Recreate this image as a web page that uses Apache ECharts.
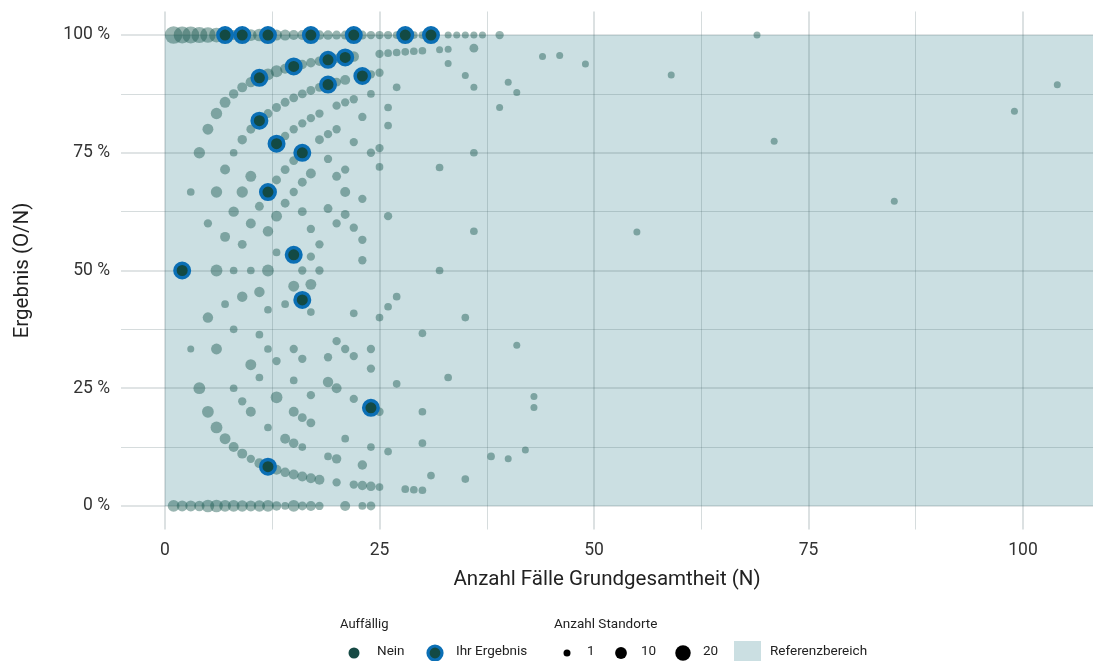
<!DOCTYPE html>
<html>
<head>
<meta charset="utf-8">
<script src="https://cdn.jsdelivr.net/npm/echarts@6/dist/echarts.min.js"></script>
<style>
  html, body { margin: 0; padding: 0; background: #fff; }
  #chart { width: 1093px; height: 661px; }
</style>
</head>
<body>
<div id="chart"></div>
<script>
// Werte je Standort: [N, O, Anzahl Standorte]
// Zeile 100 % (O = N)
var voll = [[1,1,27],[2,2,25],[3,3,25],[4,4,22],[5,5,20],[6,6,18],[8,8,6],[10,10,10],[11,11,12],
            [13,13,8],[14,14,8],[15,15,6],[16,16,6],[18,18,5],[19,19,5],[20,20,4],[21,21,4],[23,23,4],
            [24,24,3],[25,25,3],[26,26,3],[27,27,2],[29,29,2],[30,30,2],[33,33,1],[34,34,1],[35,35,1],
            [36,36,1],[37,37,1],[39,39,3],[69,69,1]];
// Zeile 0 % (O = 0)
var leer = [[1,0,10],[2,0,8],[3,0,8],[4,0,7],[5,0,12],[6,0,12],[7,0,10],[8,0,10],[9,0,9],[10,0,8],
            [11,0,9],[12,0,10],[13,0,5],[14,0,2],[15,0,10],[16,0,4],[17,0,6],[18,0,3],[21,0,6],[23,0,2],[24,0,4]];
// Bogen (N-1)/N und weit rechts
var bogen1 = [[3,2,2],[4,3,9],[5,4,8],[6,5,9],[7,6,8],[8,7,5],[9,8,6],[10,9,7],[12,11,10],[13,12,10],
              [14,13,6],[16,15,5],[17,16,5],[18,17,5],[20,19,4],[22,21,7],[25,24,3],[26,25,2],[27,26,2],
              [28,27,2],[29,28,2],[30,29,2],[32,31,1],[33,32,1],[36,35,4],[44,42,1],[46,44,1],[49,46,1],
              [59,54,1],[99,83,1],[104,93,1]];
// Bogen (N-2)/N
var bogen2 = [[5,3,3],[6,4,9],[7,5,6],[8,6,2],[9,7,5],[10,8,4],[12,10,4],[13,11,4],[14,12,4],[15,13,4],
              [16,14,4],[17,15,4],[18,16,4],[20,18,4],[21,19,6],[24,22,3],[25,23,3],[33,31,1],[35,32,1],
              [36,32,1],[40,36,1],[41,36,1],[39,33,1]];
// Mitte oben (ca. 55 - 90 %)
var mitteOben = [[20,17,3],[21,18,3],[22,19,3],[18,15,3],[17,14,3],[16,13,3],[15,12,3],[14,11,3],[23,19,3],
                 [26,22,2],[26,21,2],[24,21,2],[27,24,2],[20,16,3],[19,15,3],[18,14,4],[22,17,3],[24,18,3],
                 [25,19,3],[36,27,2],[25,18,2],[32,23,2],[19,14,3],[21,15,3],[20,14,4],[15,11,4],[14,10,4],
                 [13,9,4],[16,11,4],[17,12,6],[10,7,8],[9,6,9],[15,10,3],[21,14,6],[23,15,3],[14,9,4],
                 [11,7,4],[8,5,7],[13,8,8],[16,10,4],[19,12,4],[21,13,4],[26,16,3],[36,21,2],[20,12,3],
                 [22,13,3],[10,6,6],[7,4,6],[12,7,7],[17,10,3],[9,5,4],[18,10,3],[23,13,3],[13,7,2],
                 [17,9,3],[23,12,3],[55,32,1],[85,55,1],[71,55,1]];
// Mitte unten (ca. 20 - 50 %)
var mitteUnten = [[6,3,10],[8,4,2],[10,5,2],[12,6,10],[16,8,3],[18,9,3],[32,16,2],[15,7,8],[17,8,8],
                  [11,5,7],[9,4,7],[7,3,2],[14,6,2],[12,5,2],[17,7,2],[22,9,2],[27,12,2],[26,11,2],
                  [25,10,2],[35,14,2],[5,2,7],[8,3,2],[11,4,2],[30,11,2],[20,7,3],[21,7,3],[22,7,3],
                  [24,8,3],[24,7,3],[19,6,3],[16,5,3],[15,5,3],[13,4,3],[12,4,2],[10,3,8],[6,2,8],
                  [3,1,1],[11,3,2],[15,4,2],[19,5,7],[20,5,6],[27,7,2],[33,9,2],[4,1,10],[8,2,2],
                  [41,14,1],[43,10,1],[43,9,1]];
// Bogen 1/N und unten
var bogenUnten = [[17,4,3],[13,3,10],[22,5,3],[25,5,3],[30,6,2],[9,2,3],[10,2,6],[5,1,10],[15,3,6],
                  [16,3,4],[17,3,4],[12,2,2],[6,1,10],[7,1,8],[8,1,6],[9,1,6],[10,1,3],[11,1,6],
                  [13,1,6],[14,1,5],[15,1,6],[16,1,6],[17,1,6],[18,1,6],[20,1,3],[22,1,3],[23,1,5],
                  [24,1,5],[25,1,2],[28,1,2],[29,1,2],[30,1,2],[31,2,2],[35,2,2],[38,4,2],[40,4,1],
                  [42,5,1],[14,2,6],[15,2,5],[16,2,2],[21,3,2],[19,2,2],[20,2,5],[23,2,5],[24,3,2],
                  [26,3,2],[30,4,2]];
// Ihr Ergebnis: [N, O]
var ihrErgebnis = [[7,7],[9,9],[12,12],[17,17],[22,22],[28,28],[31,31],[21,20],[19,18],[15,14],[11,10],
                   [19,17],[23,21],[11,9],[13,10],[16,12],[12,8],[15,8],[2,1],[16,7],[24,5],[12,1]];

var achseMajor = [0, 25, 50, 75, 100];
var achseMinor = [12.5, 37.5, 62.5, 87.5];
var legendeStandorte = [1, 10, 20];
var refBereich = [0, 100];  // Referenzbereich in %

var xMin = -5.13, xMax = 108.16, yMin = -5, yMax = 105;
var schrift = 'Roboto, "Noto Sans", sans-serif';

function groesse(n) { return Math.sqrt(49 + 10 * (n - 1)); }

function punkte(liste) {
    return liste.map(function (p) { return [p[0], p[1] / p[0] * 100, p[2]]; });
}

var grau = punkte(voll).concat(punkte(leer), punkte(bogen1), punkte(bogen2),
                               punkte(mitteOben), punkte(mitteUnten), punkte(bogenUnten));
var blau = ihrErgebnis.map(function (p) { return [p[0], p[1] / p[0] * 100]; });

var gridFarbe = 'rgba(70,95,100,0.22)';

var myChart = echarts.init(document.getElementById('chart'));

// Legende unten
var lx = [354, 435, 567, 621, 683];
var legendeFont = '13.5px ' + schrift;
var legende = [
    { type: 'text', left: 340, top: 618, style: { text: 'Auffällig', font: '13px ' + schrift, fill: '#222' } },
    { type: 'circle', shape: { cx: lx[0], cy: 653, r: 5.5 }, style: { fill: '#174a45' } },
    { type: 'text', left: 377, top: 645, style: { text: 'Nein', font: legendeFont, fill: '#222' } },
    { type: 'circle', shape: { cx: lx[1], cy: 653, r: 7 }, style: { fill: '#134a44', stroke: '#0b6fb5', lineWidth: 3.2 } },
    { type: 'text', left: 456, top: 645, style: { text: 'Ihr Ergebnis', font: legendeFont, fill: '#222' } },
    { type: 'text', left: 554, top: 618, style: { text: 'Anzahl Standorte', font: '13.5px ' + schrift, fill: '#222' } },
    { type: 'rect', shape: { x: 734, y: 641, width: 27, height: 24 }, style: { fill: '#cbdfe2' } },
    { type: 'text', left: 770, top: 645, style: { text: 'Referenzbereich', font: legendeFont, fill: '#222' } }
];
legendeStandorte.forEach(function (n, i) {
    legende.push({ type: 'circle', shape: { cx: lx[2 + i], cy: 653, r: groesse(n) / 2 }, style: { fill: '#000' } });
    legende.push({ type: 'text', left: lx[2 + i] + 20, top: 645, style: { text: String(n), font: legendeFont, fill: '#222' } });
});

var option = {
    animation: false,
    textStyle: { fontFamily: schrift },
    grid: { left: 121, right: 0, top: 11.5, bottom: 131.5 },
    xAxis: [
        { type: 'value', min: xMin, max: xMax, z: 2,
          name: 'Anzahl Fälle Grundgesamtheit (N)', nameLocation: 'middle', nameGap: 40,
          nameTextStyle: { fontSize: 20.5, color: '#222', fontFamily: schrift },
          axisLine: { show: false },
          axisTick: { show: false, customValues: achseMajor },
          axisLabel: { customValues: achseMajor, fontSize: 17.5, color: '#333', margin: 12, fontFamily: schrift },
          splitLine: { show: true, lineStyle: { color: gridFarbe, width: 1.7 } } },
        { type: 'value', min: xMin, max: xMax, z: 2, position: 'bottom',
          axisLine: { show: false },
          axisTick: { show: false, customValues: achseMinor },
          axisLabel: { show: false, customValues: achseMinor },
          splitLine: { show: true, lineStyle: { color: gridFarbe, width: 1 } } }
    ],
    yAxis: [
        { type: 'value', min: yMin, max: yMax, z: 2,
          name: 'Ergebnis (O/N)', nameLocation: 'middle', nameGap: 88,
          nameTextStyle: { fontSize: 20.5, color: '#222', fontFamily: schrift },
          axisLine: { show: false },
          axisTick: { show: false, customValues: achseMajor },
          axisLabel: { customValues: achseMajor, fontSize: 17.5, color: '#333', margin: 11, fontFamily: schrift,
                       formatter: function (v) { return v + ' %'; } },
          splitLine: { show: true, lineStyle: { color: gridFarbe, width: 1.7 } } },
        { type: 'value', min: yMin, max: yMax, z: 2,
          axisLine: { show: false },
          axisTick: { show: false, customValues: achseMinor },
          axisLabel: { show: false, customValues: achseMinor },
          splitLine: { show: true, lineStyle: { color: gridFarbe, width: 1 } } }
    ],
    series: [
        { name: 'Referenzbereich', type: 'scatter', data: [], z: 1, silent: true,
          markArea: { silent: true, itemStyle: { color: '#cbdfe2' },
                      data: [[{ xAxis: 0, yAxis: refBereich[0] }, { xAxis: xMax, yAxis: refBereich[1] }]] } },
        { name: 'Nein', type: 'scatter', data: grau, z: 3,
          symbolSize: function (v) { return groesse(v[2]); },
          itemStyle: { color: '#1d5a52', opacity: 0.45 } },
        { name: 'Ihr Ergebnis', type: 'scatter', data: blau, z: 4, symbolSize: 14.5,
          itemStyle: { color: '#134a44', borderColor: '#0b6fb5', borderWidth: 3.5, opacity: 1 } }
    ],
    graphic: legende
};
myChart.setOption(option);
window.addEventListener("resize", function () { myChart.resize(); });
</script>
</body>
</html>
